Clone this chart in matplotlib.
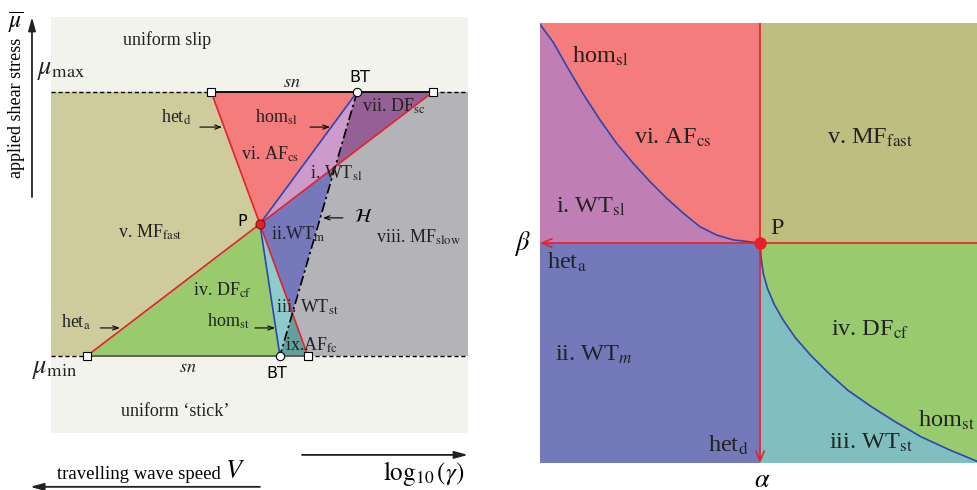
import numpy as np
import matplotlib
matplotlib.use('Agg')
import matplotlib.pyplot as plt

plt.rcParams['font.family'] = ['Liberation Serif', 'DejaVu Serif']
plt.rcParams['mathtext.fontset'] = 'stix'

# ---------------- left panel: (log10 gamma, mu) schematic, mu_min=0, mu_max=1
mu_min, mu_max = 0.0, 1.0
P_left = (0.501, 0.5)
sn_top = [0.384, 0.916]      # het_d / het_a ends on mu_max
bt_top = 0.734
sn_bot = [0.086, 0.616]      # het_a / het_d ends on mu_min
bt_bot = 0.549
x_extent = [0.0, 1.0]
y_extent = [-0.292, 1.284]

left_colors = {
    'bg': '#f3f3ee', 'MF_fast': '#cecc9c', 'AF_cs': '#f47c7c', 'WT_sl': '#cc9acb',
    'DF_sc': '#946096', 'WT_m': '#7579bb', 'MF_slow': '#b4b4b8', 'DF_cf': '#99cb6d',
    'WT_st': '#8ccccb', 'AF_fc': '#62a0a0',
}

left_labels = [
    ('uniform slip', 0.278, 1.197),
    (r'$sn$', 0.578, 1.035),
    (r'het$_{\rm d}$', 0.300, 0.905),
    (r'hom$_{\rm sl}$', 0.540, 0.905),
    (r'vi. AF$_{\rm cs}$', 0.525, 0.765),
    (r'vii. DF$_{\rm sc}$', 0.822, 0.945),
    (r'i. WT$_{\rm sl}$', 0.685, 0.69),
    (r'v. MF$_{\rm fast}$', 0.237, 0.47),
    (r'ii.WT$_{\rm m}$', 0.592, 0.46),
    (r'viii. MF$_{\rm slow}$', 0.880, 0.45),
    (r'iv. DF$_{\rm cf}$', 0.410, 0.25),
    (r'het$_{\rm a}$', 0.060, 0.128),
    (r'hom$_{\rm st}$', 0.425, 0.132),
    (r'iii. WT$_{\rm st}$', 0.614, 0.185),
    (r'ix.AF$_{\rm fc}$', 0.626, 0.042),
    (r'$sn$', 0.329, -0.045),
    (u'uniform \u2018stick\u2019', 0.297, -0.212),
]
# small pointer arrows (start x, end x, y)
left_pointers = [(0.357, 0.410, 0.867), (0.621, 0.669, 0.867),
                 (0.118, 0.165, 0.106), (0.489, 0.537, 0.106),
                 (0.700, 0.652, 0.523)]


def cross(a, b, c, d):
    # intersection of line a-b with line c-d
    a, b, c, d = map(np.asarray, (a, b, c, d))
    m = np.array([b - a, c - d]).T
    t = np.linalg.solve(m, c - a)[0]
    return tuple(a + t * (b - a))


X = cross(P_left, (sn_top[1], mu_max), (bt_top, mu_max), (bt_bot, mu_min))
Y = cross(P_left, (sn_bot[1], mu_min), (bt_top, mu_max), (bt_bot, mu_min))

regions = {
    'MF_fast': [(x_extent[0], mu_min), (x_extent[0], mu_max), (sn_top[0], mu_max), P_left, (sn_bot[0], mu_min)],
    'AF_cs': [(sn_top[0], mu_max), (bt_top, mu_max), P_left],
    'WT_sl': [P_left, (bt_top, mu_max), X],
    'DF_sc': [(bt_top, mu_max), (sn_top[1], mu_max), X],
    'WT_m': [P_left, X, Y],
    'MF_slow': [X, (sn_top[1], mu_max), (x_extent[1], mu_max), (x_extent[1], mu_min), (sn_bot[1], mu_min), Y],
    'DF_cf': [P_left, (sn_bot[0], mu_min), (bt_bot, mu_min)],
    'WT_st': [P_left, (bt_bot, mu_min), Y],
    'AF_fc': [(bt_bot, mu_min), (sn_bot[1], mu_min), Y],
}

# ---------------- right panel: (beta, alpha) plane, P at origin
up_x = [-1.0, -0.939, -0.879, -0.803, -0.727, -0.652, -0.576, -0.5, -0.424, -0.348, -0.273, -0.197, -0.121, 0.0]
up_y = [0.994, 0.911, 0.805, 0.676, 0.559, 0.453, 0.362, 0.279, 0.203, 0.135, 0.074, 0.036, 0.014, 0.0]
lo_x = [0.0, 0.005, 0.015, 0.035, 0.065, 0.105, 0.16, 0.23, 0.31, 0.40, 0.50, 0.61, 0.73, 0.86, 0.986]
lo_y = [0.0, -0.07, -0.14, -0.21, -0.28, -0.35, -0.43, -0.51, -0.59, -0.67, -0.74, -0.81, -0.88, -0.94, -0.992]
bx = [-1.0, 0.986]
ay = [-1.0, 1.0]

right_colors = {'AF_cs': '#f47c7c', 'WT_sl': '#bf7fb5', 'MF_fast': '#bfbe81',
                'WT_m': '#7479ba', 'DF_cf': '#98cb6e', 'WT_st': '#80bfbf'}

right_labels = [
    (r'hom$_{\rm sl}$', -0.727, 0.85),
    (r'vi. AF$_{\rm cs}$', -0.395, 0.48),
    (r'v. MF$_{\rm fast}$', 0.50, 0.48),
    (r'i. WT$_{\rm sl}$', -0.768, 0.165),
    (r'het$_{\rm a}$', -0.877, -0.09),
    (r'ii. WT$_{m}$', -0.755, -0.51),
    (r'iv. DF$_{\rm cf}$', 0.50, -0.395),
    (r'hom$_{\rm st}$', 0.845, -0.805),
    (r'iii. WT$_{\rm st}$', 0.505, -0.91),
    (r'het$_{\rm d}$', -0.145, -0.92),
]

red = '#e8202a'
blue = '#2f45b0'

fig = plt.figure(figsize=(9.77, 4.9), dpi=100)

# ---- left
axL = fig.add_axes([51 / 977, 57 / 490, 417 / 977, 416 / 490])
axL.set_xlim(x_extent)
axL.set_ylim(y_extent)
axL.set_facecolor(left_colors['bg'])
for s in axL.spines.values():
    s.set_visible(False)
axL.set_xticks([])
axL.set_yticks([])

for name, verts in regions.items():
    vx, vy = zip(*verts)
    axL.fill(vx, vy, color=left_colors[name], lw=0)

# stability boundaries
for end in [(sn_top[0], mu_max), (sn_top[1], mu_max), (sn_bot[0], mu_min), (sn_bot[1], mu_min)]:
    axL.plot([P_left[0], end[0]], [P_left[1], end[1]], color=red, lw=1.2)
for end in [(bt_top, mu_max), (bt_bot, mu_min)]:
    axL.plot([P_left[0], end[0]], [P_left[1], end[1]], color=blue, lw=1.2)
axL.plot([bt_top, bt_bot], [mu_max, mu_min], color='k', lw=1.2, ls=(0, (6, 2, 1.5, 2)))

# saddle-node lines
for mu, ends in [(mu_max, sn_top), (mu_min, sn_bot)]:
    axL.plot([x_extent[0], ends[0]], [mu, mu], 'k--', lw=1, dashes=(3, 2))
    axL.plot([ends[1], x_extent[1]], [mu, mu], 'k--', lw=1, dashes=(3, 2))
    axL.plot(ends, [mu, mu], color='k' if mu == mu_max else '#555555', lw=1.3)

axL.plot(sn_top + sn_bot, [mu_max, mu_max, mu_min, mu_min], 's', ms=6, mfc='white', mec='k', mew=0.8, ls='none')
axL.plot([bt_top, bt_bot], [mu_max, mu_min], 'o', ms=6, mfc='white', mec='k', mew=0.8, ls='none')
axL.plot(*P_left, 'o', ms=6.5, mfc=red, mec='#8a1010', mew=0.8)

for txt, x, y in left_labels:
    axL.text(x, y, txt, fontsize=13, ha='center', va='center', color='#222222')
for x0, x1, y in left_pointers:
    axL.annotate('', xy=(x1, y), xytext=(x0, y),
                 arrowprops=dict(arrowstyle='->,head_length=0.4,head_width=0.15', lw=0.8, color='k',
                                 shrinkA=0, shrinkB=0))
axL.text(0.726, 0.523, r'$\mathcal{H}$', fontsize=14, ha='left', va='center')
axL.text(0.741, 1.055, 'BT', fontsize=11.5, family='DejaVu Sans', ha='center', va='center')
axL.text(0.542, -0.066, 'BT', fontsize=11.5, family='DejaVu Sans', ha='center', va='center')
axL.text(0.458, 0.51, 'P', fontsize=11.5, family='DejaVu Sans', ha='center', va='center')

# axis annotations
axL.text(-0.034, 1.08, r'$\mu_{\rm max}$', fontsize=19, ha='left', va='center', color='#222222')
axL.text(-0.045, -0.055, r'$\mu_{\rm min}$', fontsize=19, ha='left', va='center', color='#222222')
axL.text(-0.083, 0.94, 'applied shear stress', fontsize=13, rotation=90, ha='center', va='center')
axL.text(-0.086, 1.262, r'$\overline{\mu}$', fontsize=17, ha='center', va='center')
axL.annotate('', xy=(-0.0456, 1.284), xytext=(-0.0456, 0.602), annotation_clip=False,
             arrowprops=dict(arrowstyle='-|>,head_length=0.8,head_width=0.22', lw=1.3, color='#222222',
                             shrinkA=0, shrinkB=0))
axL.annotate('', xy=(1.0, -0.375), xytext=(0.602, -0.375), annotation_clip=False,
             arrowprops=dict(arrowstyle='-|>,head_length=0.8,head_width=0.22', lw=1.3, color='#222222',
                             shrinkA=0, shrinkB=0))
axL.annotate('', xy=(-0.050, -0.496), xytext=(0.501, -0.496), annotation_clip=False,
             arrowprops=dict(arrowstyle='-|>,head_length=0.8,head_width=0.22', lw=1.3, color='#222222',
                             shrinkA=0, shrinkB=0))
axL.text(0.992, -0.445, r'$\log_{10}(\gamma)$', fontsize=18, ha='right', va='center')
axL.text(0.015, -0.448, 'travelling wave speed', fontsize=13.5, ha='left', va='center')
axL.text(0.418, -0.44, r'$V$', fontsize=19, ha='left', va='center')

# ---- right
axR = fig.add_axes([540 / 977, 27 / 490, 437 / 977, 440 / 490])
axR.set_xlim(bx)
axR.set_ylim(ay)
for s in axR.spines.values():
    s.set_visible(False)
axR.set_xticks([])
axR.set_yticks([])

axR.fill_between([bx[0], 0], 0, ay[1], color=right_colors['AF_cs'], lw=0)
axR.fill(up_x + [bx[0]], up_y + [0], color=right_colors['WT_sl'], lw=0)
axR.fill_between([0, bx[1]], 0, ay[1], color=right_colors['MF_fast'], lw=0)
axR.fill_between([bx[0], 0], ay[0], 0, color=right_colors['WT_m'], lw=0)
axR.fill_between([0, bx[1]], ay[0], 0, color=right_colors['DF_cf'], lw=0)
axR.fill(lo_x + [bx[1], 0], lo_y + [ay[0], ay[0]], color=right_colors['WT_st'], lw=0)

axR.plot(up_x, up_y, color=blue, lw=1.2)
axR.plot(lo_x, lo_y, color=blue, lw=1.2)
axR.plot([0, bx[1]], [0, 0], color=red, lw=1.2)
axR.plot([0, 0], [0, ay[1]], color=red, lw=1.2)
axR.annotate('', xy=(bx[0], 0), xytext=(0, 0),
             arrowprops=dict(arrowstyle='->,head_length=0.7,head_width=0.3', lw=1.2, color=red,
                             shrinkA=0, shrinkB=0))
axR.annotate('', xy=(0, ay[0]), xytext=(0, 0),
             arrowprops=dict(arrowstyle='->,head_length=0.7,head_width=0.3', lw=1.2, color=red,
                             shrinkA=0, shrinkB=0))
axR.plot(0, 0, 'o', ms=8, color=red, clip_on=False, zorder=5)

for txt, x, y in right_labels:
    axR.text(x, y, txt, fontsize=17.5, ha='center', va='center', color='#222222')
axR.text(0.075, 0.065, 'P', fontsize=17.5, ha='center', va='center', color='#222222')
axR.text(-1.08, 0.0, r'$\beta$', fontsize=19, ha='center', va='center')
axR.text(0.01, -1.08, r'$\alpha$', fontsize=19, ha='center', va='center')

fig.savefig('out.png', dpi=100)
